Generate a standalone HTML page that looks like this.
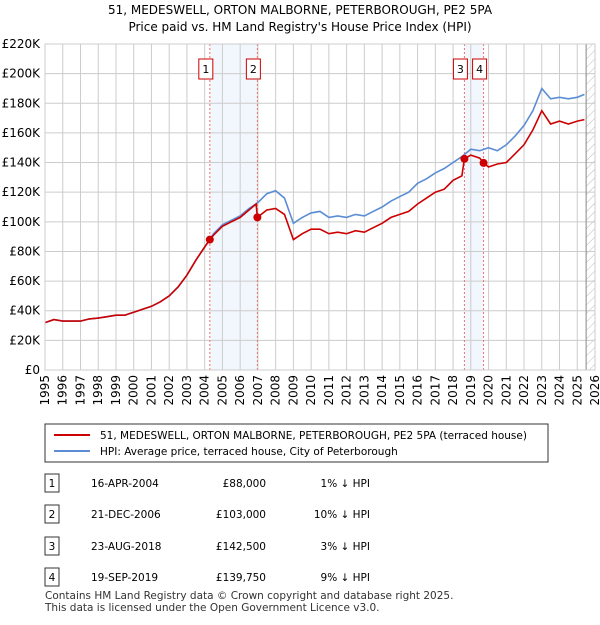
<!DOCTYPE html>
<html><head><meta charset="utf-8"><style>
body{margin:0;background:#fff;font-family:"Liberation Sans","DejaVu Sans",sans-serif;}
svg text{font-family:"DejaVu Sans","Liberation Sans",sans-serif;}
</style></head><body>
<svg id="c" width="600" height="620" xmlns="http://www.w3.org/2000/svg">
<defs><pattern id="hatch" width="6" height="6" patternUnits="userSpaceOnUse" patternTransform="rotate(45)"><line x1="0" y1="0" x2="0" y2="6" stroke="#bbb" stroke-width="1"/></pattern></defs>
<text x="300" y="14" text-anchor="middle" font-size="12">51, MEDESWELL, ORTON MALBORNE, PETERBOROUGH, PE2 5PA</text>
<text x="300" y="31" text-anchor="middle" font-size="12">Price paid vs. HM Land Registry's House Price Index (HPI)</text>
<g id="plot"></g>
<g>
<rect x="45" y="424" width="503" height="38" fill="#fff" stroke="#333"/>
<line x1="54" y1="435" x2="90" y2="435" stroke="#cc0000" stroke-width="2"/>
<text x="100" y="439" font-size="10.5">51, MEDESWELL, ORTON MALBORNE, PETERBOROUGH, PE2 5PA (terraced house)</text>
<line x1="54" y1="451" x2="90" y2="451" stroke="#5b8dd4" stroke-width="2"/>
<text x="100" y="455" font-size="10.5">HPI: Average price, terraced house, City of Peterborough</text>
</g>
<g id="tbl" font-size="10.5"></g>
<text x="45" y="599" font-size="10.5" fill="#333">Contains HM Land Registry data © Crown copyright and database right 2025.</text>
<text x="45" y="611" font-size="10.5" fill="#333">This data is licensed under the Open Government Licence v3.0.</text>
</svg>
<script>
const hpiDates=[1995,1995.5,1996,1996.5,1997,1997.5,1998,1998.5,1999,1999.5,2000,2000.5,2001,2001.5,2002,2002.5,2003,2003.5,2004,2004.5,2005,2005.5,2006,2006.5,2007,2007.5,2008,2008.5,2009,2009.5,2010,2010.5,2011,2011.5,2012,2012.5,2013,2013.5,2014,2014.5,2015,2015.5,2016,2016.5,2017,2017.5,2018,2018.5,2019,2019.5,2020,2020.5,2021,2021.5,2022,2022.5,2023,2023.5,2024,2024.5,2025,2025.4];
const hpiValues=[32,34,33,33,33,34.5,35,36,37,37,39,41,43,46,50,56,64,74,83,92,98,101,104,109,113,119,121,116,99,103,106,107,103,104,103,105,104,107,110,114,117,120,126,129,133,136,140,144,149,148,150,148,152,158,165,175,190,183,184,183,184,186];
const ppDates=[1995,1995.5,1996,1996.5,1997,1997.5,1998,1998.5,1999,1999.5,2000,2000.5,2001,2001.5,2002,2002.5,2003,2003.5,2004,2004.29,2004.5,2005,2005.5,2006,2006.5,2006.9,2006.97,2007.5,2008,2008.5,2009,2009.5,2010,2010.5,2011,2011.5,2012,2012.5,2013,2013.5,2014,2014.5,2015,2015.5,2016,2016.5,2017,2017.5,2018,2018.5,2018.64,2019,2019.5,2019.72,2020,2020.5,2021,2021.5,2022,2022.5,2023,2023.5,2024,2024.5,2025,2025.4];
const ppValues=[32,34,33,33,33,34.5,35,36,37,37,39,41,43,46,50,56,64,74,83,88,91,97,100,103,108,112,103,108,109,105,88,92,95,95,92,93,92,94,93,96,99,103,105,107,112,116,120,122,128,131,142.5,145,143,139.75,137,139,140,146,152,162,175,166,168,166,168,169];
const saleLabels=["1","2","3","4"];
const saleDates=[2004.29,2006.97,2018.64,2019.72];
const salePrices=[88,103,142.5,139.75];
const saleDateText=["16-APR-2004","21-DEC-2006","23-AUG-2018","19-SEP-2019"];
const salePriceText=["£88,000","£103,000","£142,500","£139,750"];
const saleHpiText=["1% ↓ HPI","10% ↓ HPI","3% ↓ HPI","9% ↓ HPI"];
const yTicks=[0,20,40,60,80,100,120,140,160,180,200,220];
const yTickLabels=["£0","£20K","£40K","£60K","£80K","£100K","£120K","£140K","£160K","£180K","£200K","£220K"];
const xYears=[1995,1996,1997,1998,1999,2000,2001,2002,2003,2004,2005,2006,2007,2008,2009,2010,2011,2012,2013,2014,2015,2016,2017,2018,2019,2020,2021,2022,2023,2024,2025,2026];

const NS="http://www.w3.org/2000/svg";
const X0=45,X1=595,Y0=370,Y1=44;
const xs=t=>X0+(t-1995)/31*(X1-X0);
const ys=v=>Y0-v/220*(Y0-Y1);
const g=document.getElementById('plot');
function mk(tag,at,parent){const e=document.createElementNS(NS,tag);for(const k in at)e.setAttribute(k,at[k]);(parent||g).appendChild(e);return e;}
let s1=mk('rect',{x:xs(saleDates[0]),y:Y1,width:xs(saleDates[1])-xs(saleDates[0]),height:Y0-Y1,fill:'#f2f6fd'});


let s2=mk('rect',{x:xs(saleDates[2]),y:Y1,width:xs(saleDates[3])-xs(saleDates[2]),height:Y0-Y1,fill:'#f2f6fd'});


let h=mk('rect',{x:xs(2025.5),y:Y1,width:X1-xs(2025.5),height:Y0-Y1,fill:'url(#hatch)'});


yTicks.forEach((v,i)=>{
 mk('line',{x1:X0,y1:ys(v),x2:X1,y2:ys(v),stroke:'#ccc'});
 const t=mk('text',{x:X0-5,y:ys(v)+4,'text-anchor':'end','font-size':'12'});t.textContent=yTickLabels[i];
 
 
});
xYears.forEach(yr=>{
 mk('line',{x1:xs(yr),y1:Y1,x2:xs(yr),y2:Y0,stroke:'#ccc'});
 const t=mk('text',{x:0,y:0,'font-size':'12',transform:`translate(${xs(yr)+4},${Y0+5}) rotate(-90)`,'text-anchor':'end'});t.textContent=yr;
 
 
});
mk('line',{x1:xs(2025.5),y1:Y1,x2:xs(2025.5),y2:Y0,stroke:'#888'});
saleDates.forEach((d,i)=>{
 mk('line',{x1:xs(d),y1:Y1,x2:xs(d),y2:Y0,stroke:'#f07070','stroke-dasharray':'2,2'});
});
function path(ds,vs,col,name){
 const p=mk('path',{d:ds.map((d,i)=>(i?'L':'M')+xs(d).toFixed(1)+','+ys(vs[i]).toFixed(1)).join(''),fill:'none',stroke:col,'stroke-width':'1.6'});
 
 
}
path(hpiDates,hpiValues,'#5b8dd4','hpi-line');
path(ppDates,ppValues,'#cc0000','price-paid-line');
saleDates.forEach((d,i)=>{
 const c=mk('circle',{cx:xs(d),cy:ys(salePrices[i]),r:4,fill:'#cc0000'});
 
 
 const bx=xs(d)-11;
 const r=mk('rect',{x:bx,y:59,width:14,height:20,fill:'#fff',stroke:'#cc0000'});
 
 
 const t=mk('text',{x:bx+7,y:73,'text-anchor':'middle','font-size':'11'});t.textContent=saleLabels[i];
});
mk('rect',{x:X0,y:Y1,width:X1-X0,height:Y0-Y1,fill:'none',stroke:'#ccc'});
const tb=document.getElementById('tbl');
const rowY=[483,514,546,577];
saleLabels.forEach((l,i)=>{
 const y=rowY[i];
 const r=mk('rect',{x:45,y:y-9,width:14,height:18,fill:'#fff',stroke:'#333'},tb);
 
 
 let t=mk('text',{x:52,y:y+4,'text-anchor':'middle'},tb);t.textContent=l;
 t=mk('text',{x:91,y:y+4},tb);t.textContent=saleDateText[i];
 
 
 t=mk('text',{x:266,y:y+4,'text-anchor':'end'},tb);t.textContent=salePriceText[i];
 
 
 t=mk('text',{x:370,y:y+4,'text-anchor':'end'},tb);t.textContent=saleHpiText[i];
 
 
});
</script>
</body></html>
